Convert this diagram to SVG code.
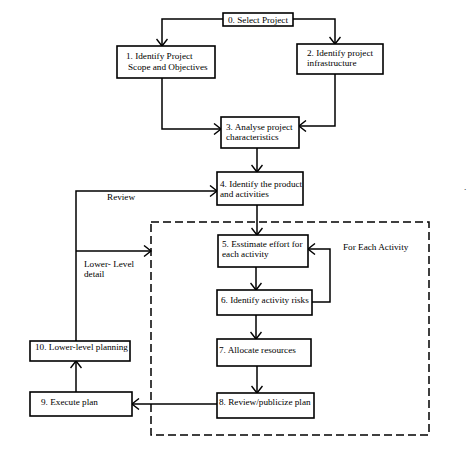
<svg xmlns="http://www.w3.org/2000/svg" width="474" height="467" viewBox="0 0 474 467">
<style>
.box{fill:#fff;stroke:#000;stroke-width:1.6}
.ln{fill:none;stroke:#000;stroke-width:1.5}
text{font-family:"Liberation Serif","Times New Roman",serif;font-size:9.2px;fill:#000}
</style>
<defs>
<marker id="ah" viewBox="0 0 12 12" refX="8" refY="6" markerWidth="12" markerHeight="12" markerUnits="userSpaceOnUse" orient="auto">
<path d="M1,0.5 L8,6 L1,11.5" fill="none" stroke="#000" stroke-width="1.4"/>
</marker>
</defs>
<rect width="474" height="467" fill="#fff"/>
<rect x="151" y="222" width="278" height="213" fill="none" stroke="#000" stroke-width="1.5" stroke-dasharray="8,4"/>
<g id="connectors">
<polyline class="ln" points="223,19 162,19 162,46" marker-end="url(#ah)"/>
<polyline class="ln" points="293,19 335,19 335,44" marker-end="url(#ah)"/>
<polyline class="ln" points="162,78 162,129 221,129" marker-end="url(#ah)"/>
<polyline class="ln" points="335,74 335,126 299,126" marker-end="url(#ah)"/>
<polyline class="ln" points="257,148 257,172" marker-end="url(#ah)"/>
<polyline class="ln" points="257,205 257,235" marker-end="url(#ah)"/>
<polyline class="ln" points="256,267 256,290" marker-end="url(#ah)"/>
<polyline class="ln" points="312,302 330,302 330,249 308,249" marker-end="url(#ah)"/>
<polyline class="ln" points="256,315 256,339" marker-end="url(#ah)"/>
<polyline class="ln" points="257,366 257,393" marker-end="url(#ah)"/>
<polyline class="ln" points="217,404 132,404" marker-end="url(#ah)"/>
<polyline class="ln" points="76,392 76,361" marker-end="url(#ah)"/>
<polyline class="ln" points="76,341 76,191 217,191" marker-end="url(#ah)"/>
<polyline class="ln" points="76,251 151,251" marker-end="url(#ah)"/>
</g>
<g id="n0"><rect class="box" x="223" y="13" width="70" height="13"/><text x="228" y="22.5">0. Select Project</text></g>
<g id="n1"><rect class="box" x="117" y="46" width="98" height="32"/><text x="126" y="59">1. Identify Project</text><text x="128" y="70">Scope and Objectives</text></g>
<g id="n2"><rect class="box" x="297" y="44" width="86" height="30"/><text x="307" y="56">2. Identify project</text><text x="307" y="66">infrastructure</text></g>
<g id="n3"><rect class="box" x="221" y="117" width="78" height="31"/><text x="226" y="130">3. Analyse project</text><text x="226" y="140">characteristics</text></g>
<g id="n4"><rect class="box" x="217" y="172" width="86" height="33"/><text x="220" y="187">4. Identify the product</text><text x="220" y="197">and activities</text></g>
<g id="n5"><rect class="box" x="218" y="235" width="90" height="32"/><text x="222" y="247">5. Esstimate effort for</text><text x="222" y="257">each activity</text></g>
<g id="n6"><rect class="box" x="217" y="290" width="95" height="25"/><text x="221" y="303">6. Identify activity risks</text></g>
<g id="n7"><rect class="box" x="217" y="339" width="94" height="27"/><text x="219" y="353">7. Allocate resources</text></g>
<g id="n8"><rect class="box" x="217" y="393" width="97" height="25"/><text x="219" y="405">8. Review/publicize plan</text></g>
<g id="n9"><rect class="box" x="30" y="392" width="102" height="24"/><text x="41" y="405">9. Execute plan</text></g>
<g id="n10"><rect class="box" x="30" y="341" width="100" height="20"/><text x="35" y="350">10. Lower-level planning</text></g>
<g id="labels">
<text x="107" y="200">Review</text>
<text x="343" y="250">For Each Activity</text>
<text x="84" y="267">Lower- Level</text>
<text x="84" y="277">detail</text>
<text x="464" y="190">.</text>
</g>
</svg>
